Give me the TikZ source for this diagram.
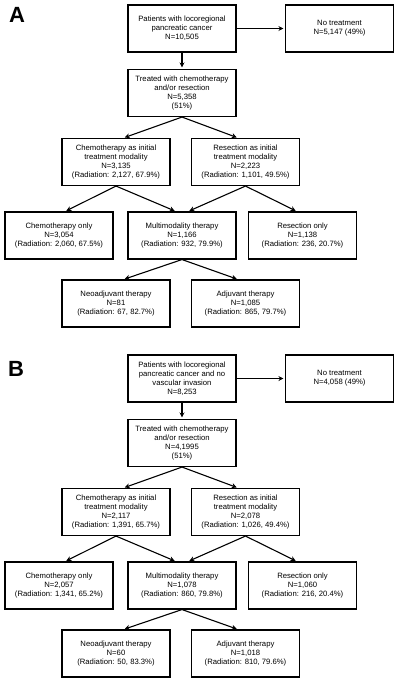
\documentclass[tikz,border=0pt]{standalone}
\usepackage{fontspec}
\setmainfont{Liberation Sans}
\usepackage{tikz}
\usetikzlibrary{arrows.meta,positioning}

\begin{document}
\begin{tikzpicture}[x=1pt,y=-1pt,
	flowbox/.style={draw,line width=1.1pt,minimum width=108pt,minimum height=47pt,
		inner sep=1pt,align=center,font=\fontsize{7.7}{9}\selectfont},
	panellabel/.style={font=\fontsize{22}{22}\selectfont\bfseries,inner sep=0pt},
	flowarrow/.style={line width=1.1pt,-{Stealth[length=5pt,width=5pt]},shorten >=1.5pt},
	]
	\useasboundingbox (0,0) rectangle (400,683);
	
	% panel A
	\begin{scope}
	\node[panellabel] (Alabel) at (17,15) {A};
	\node[flowbox] (Atop) at (182,28.5) {Patients with locoregional\\pancreatic cancer\\N=10,505};
	\node[flowbox] (Anone) at (339.5,28.5) {No treatment\\N=5,147 (49\%)};
	\node[flowbox] (Atreat) at (182,93) {Treated with chemotherapy\\and/or resection\\N=5,358\\(51\%)};
	\node[flowbox] (Achemo) at (116,162) {Chemotherapy as initial\\treatment modality\\N=3,135\\(Radiation: 2,127, 67.9\%)};
	\node[flowbox] (Aresec) at (245.5,162) {Resection as initial\\treatment modality\\N=2,223\\(Radiation: 1,101, 49.5\%)};
	\node[flowbox] (Achonly) at (59,235.5) {Chemotherapy only\\N=3,054\\(Radiation: 2,060, 67.5\%)};
	\node[flowbox] (Amulti) at (182,235.5) {Multimodality therapy\\N=1,166\\(Radiation: 932, 79.9\%)};
	\node[flowbox] (Aresonly) at (302.5,235.5) {Resection only\\N=1,138\\(Radiation: 236, 20.7\%)};
	\node[flowbox] (Aneo) at (116,303.5) {Neoadjuvant therapy\\N=81\\(Radiation: 67, 82.7\%)};
	\node[flowbox] (Aadj) at (245.5,303.5) {Adjuvant therapy\\N=1,085\\(Radiation: 865, 79.7\%)};
	
	\draw[flowarrow] (Atop) -- (Anone);
	\draw[flowarrow] (Atop) -- (Atreat);
	\draw[flowarrow] (Atreat.south) -- (Achemo.73);
	\draw[flowarrow] (Atreat.south) -- (Aresec.107);
	\draw[flowarrow] (Achemo.south) -- (Achonly.76);
	\draw[flowarrow] (Achemo.south) -- (Amulti.104);
	\draw[flowarrow] (Aresec.south) -- (Amulti.76);
	\draw[flowarrow] (Aresec.south) -- (Aresonly.103);
	\draw[flowarrow] (Amulti.south) -- (Aneo.73);
	\draw[flowarrow] (Amulti.south) -- (Aadj.107);
	\end{scope}
	
	% panel B
	\begin{scope}[yshift=-350pt]
	\node[panellabel] (Blabel) at (16,19) {B};
	\node[flowbox] (Btop) at (182,28.5) {Patients with locoregional\\pancreatic cancer and no\\vascular invasion\\N=8,253};
	\node[flowbox] (Bnone) at (339.5,28.5) {No treatment\\N=4,058 (49\%)};
	\node[flowbox] (Btreat) at (182,93) {Treated with chemotherapy\\and/or resection\\N=4,1995\\(51\%)};
	\node[flowbox] (Bchemo) at (116,162) {Chemotherapy as initial\\treatment modality\\N=2,117\\(Radiation: 1,391, 65.7\%)};
	\node[flowbox] (Bresec) at (245.5,162) {Resection as initial\\treatment modality\\N=2,078\\(Radiation: 1,026, 49.4\%)};
	\node[flowbox] (Bchonly) at (59,235.5) {Chemotherapy only\\N=2,057\\(Radiation: 1,341, 65.2\%)};
	\node[flowbox] (Bmulti) at (182,235.5) {Multimodality therapy\\N=1,078\\(Radiation: 860, 79.8\%)};
	\node[flowbox] (Bresonly) at (302.5,235.5) {Resection only\\N=1,060\\(Radiation: 216, 20.4\%)};
	\node[flowbox] (Bneo) at (116,303.5) {Neoadjuvant therapy\\N=60\\(Radiation: 50, 83.3\%)};
	\node[flowbox] (Badj) at (245.5,303.5) {Adjuvant therapy\\N=1,018\\(Radiation: 810, 79.6\%)};
	
	\draw[flowarrow] (Btop) -- (Bnone);
	\draw[flowarrow] (Btop) -- (Btreat);
	\draw[flowarrow] (Btreat.south) -- (Bchemo.73);
	\draw[flowarrow] (Btreat.south) -- (Bresec.107);
	\draw[flowarrow] (Bchemo.south) -- (Bchonly.76);
	\draw[flowarrow] (Bchemo.south) -- (Bmulti.104);
	\draw[flowarrow] (Bresec.south) -- (Bmulti.76);
	\draw[flowarrow] (Bresec.south) -- (Bresonly.103);
	\draw[flowarrow] (Bmulti.south) -- (Bneo.73);
	\draw[flowarrow] (Bmulti.south) -- (Badj.107);
	\end{scope}
	
\end{tikzpicture}
\end{document}
